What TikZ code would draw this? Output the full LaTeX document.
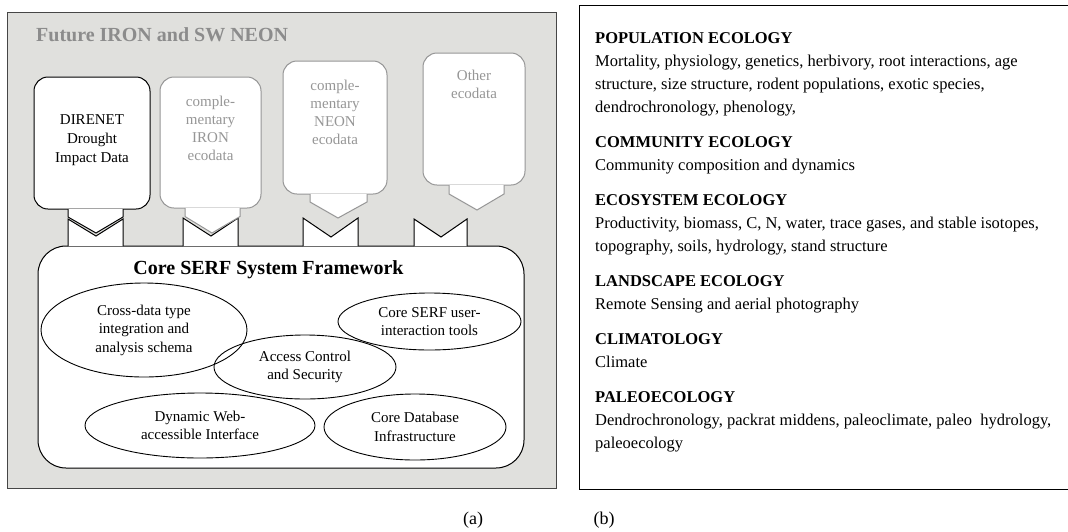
\documentclass[tikz,border=0pt]{standalone}
\usepackage{fontspec}
\setmainfont{Liberation Serif}
\usetikzlibrary{shapes.geometric}
\definecolor{panelgray}{RGB}{224,224,221}
\definecolor{boxgray}{RGB}{150,150,150}
\definecolor{txtgray}{RGB}{150,150,150}
\definecolor{titlegray}{RGB}{140,140,140}
\definecolor{framegray}{RGB}{70,70,70}
\begin{document}
\begin{tikzpicture}[x=1pt,y=-1pt,
  databox/.style={draw, rounded corners=14pt, fill=white, line width=1pt, inner sep=0pt},
  graybox/.style={databox, draw=boxgray},
  boxtext/.style={align=center, inner sep=0pt, font=\fontsize{15}{19}\selectfont},
  grayboxtext/.style={boxtext, text=txtgray, font=\fontsize{15}{18}\selectfont},
  ell/.style={ellipse, draw, line width=0.9pt, inner sep=0pt, align=center, font=\fontsize{15}{18.5}\selectfont},
  ecosec/.style={anchor=north west, align=left, inner sep=0pt, font=\fontsize{16.5}{23}\selectfont},
  stubblack/.style={draw=black, fill=white, line width=1pt},
  stubgray/.style={draw=boxgray, fill=white, line width=1pt},
  caption/.style={font=\fontsize{18}{22}\selectfont, inner sep=0pt}
]
\useasboundingbox (0,0) rectangle (1068,531);
\fill[white] (0,0) rectangle (1068,531);

% left panel
\node[draw=framegray, fill=panelgray, minimum width=548.5pt, minimum height=476pt, inner sep=0pt, line width=1pt] (panel) at (281.75,250) {};
\node[anchor=west, text=titlegray, font=\bfseries\fontsize{20}{24}\selectfont, inner sep=0pt] (ptitle) at (36,35) {Future IRON and SW NEON};

% data boxes
\node[databox, minimum width=116pt, minimum height=132pt] (b1) at (92,143) {};
\node[graybox, minimum width=101pt, minimum height=131pt] (b2) at (210.5,142.5) {};
\node[graybox, minimum width=104pt, minimum height=133pt] (b3) at (335,127.5) {};
\node[graybox, minimum width=102pt, minimum height=132pt] (b4) at (474,119) {};

\node[boxtext] (b1t) at (92,140) {DIRENET\\Drought\\Impact Data};
\node[grayboxtext] (b2t) at (210.5,128) {comple-\\mentary\\IRON\\ecodata};
\node[grayboxtext] (b3t) at (335,112) {comple-\\mentary\\NEON\\ecodata};
\node[grayboxtext] (b4t) at (474,84.5) {Other\\ecodata};

% core framework
\node[draw, fill=white, rounded corners=28pt, minimum width=486pt, minimum height=222pt, inner sep=0pt, line width=1pt] (core) at (281,357) {};
\node[font=\bfseries\fontsize{20}{24}\selectfont, inner sep=0pt] (coretitle) at (268.5,270) {Core SERF System Framework};

% notches (into core) and arrow stubs (from boxes)
\draw[stubblack] (68,246) -- (68,219) -- (96,236) -- (123,219) -- (123,246);
\draw[stubblack] (68,209) -- (68,217) -- (96,233) -- (123,217) -- (123,209);

\draw[stubblack] (183,246) -- (183,218) -- (211,236) -- (238,218) -- (238,246);
\draw[stubgray] (185,208) -- (185,216.5) -- (212,233) -- (240,216.5) -- (240,208);

\draw[stubblack] (303,246) -- (303,218) -- (331,237) -- (358,218) -- (358,246);
\draw[stubgray] (310,194) -- (310,202) -- (338,218) -- (367,202) -- (367,194);

\draw[stubblack] (414,246) -- (414,219) -- (441,237) -- (467,219) -- (467,246);
\draw[stubgray] (449,185) -- (449,194) -- (477,210) -- (504,194) -- (504,185);

% ellipses
\node[ell, minimum width=206pt, minimum height=94pt] (e1) at (144,330) {Cross-data type\\integration and\\analysis schema};
\node[ell, minimum width=183pt, minimum height=57pt] (e2) at (429.5,321.5) {Core SERF user-\\interaction tools};
\node[ell, minimum width=182pt, minimum height=64pt] (e3) at (305,367) {Access Control\\and Security};
\node[ell, minimum width=230pt, minimum height=65pt] (e4) at (200,425.5) {Dynamic Web-\\accessible Interface};
\node[ell, minimum width=182pt, minimum height=66pt] (e5) at (415,427) {Core Database\\Infrastructure};

% right panel
\draw[line width=1pt] (1069,5) -- (579,5) -- (579,489) -- (1069,489);
\node[ecosec] (pop) at (595,32.3) {\textbf{POPULATION ECOLOGY}\\Mortality, physiology, genetics, herbivory, root interactions, age\\structure, size structure, rodent populations, exotic species,\\dendrochronology, phenology,};
\node[ecosec] (com) at (595,136.3) {\textbf{COMMUNITY ECOLOGY}\\Community composition and dynamics};
\node[ecosec] (eco) at (595,194.3) {\textbf{ECOSYSTEM ECOLOGY}\\Productivity, biomass, C, N, water, trace gases, and stable isotopes,\\topography, soils, hydrology, stand structure};
\node[ecosec] (land) at (595,275.3) {\textbf{LANDSCAPE ECOLOGY}\\Remote Sensing and aerial photography};
\node[ecosec] (clim) at (595,333.3) {\textbf{CLIMATOLOGY}\\Climate};
\node[ecosec] (paleo) at (595,391.3) {\textbf{PALEOECOLOGY}\\Dendrochronology, packrat middens, paleoclimate, paleo~ hydrology,\\paleoecology};

% captions
\node[caption] (capa) at (473,520) {(a)};
\node[caption] (capb) at (604,520) {(b)};
\end{tikzpicture}
\end{document}
